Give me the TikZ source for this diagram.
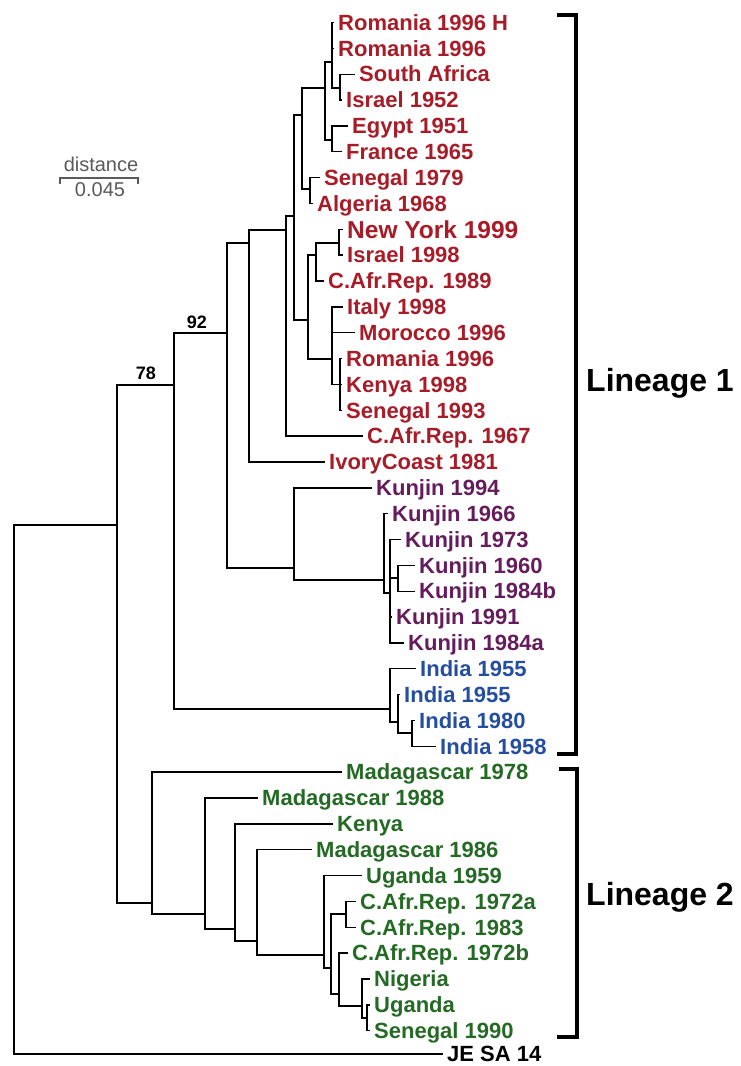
\documentclass[tikz,border=0pt]{standalone}
\usepackage{fontspec}
\setmainfont{Liberation Sans}
\definecolor{lred}{RGB}{168,28,40}
\definecolor{lpurple}{RGB}{100,28,92}
\definecolor{lblue}{RGB}{36,78,160}
\definecolor{lgreen}{RGB}{36,106,36}
\definecolor{scalegray}{RGB}{90,90,90}
\begin{document}
\begin{tikzpicture}[x=1pt,y=-1pt,
  branch/.style={line width=1.4pt, line join=miter},
  taxon/.style={anchor=west, inner xsep=4pt, inner ysep=0pt, text height=15.5pt, text depth=0pt,
    font=\fontsize{22}{25}\selectfont\bfseries},
  bigtaxon/.style={taxon, text height=17.5pt, font=\fontsize{24.5}{28}\selectfont\bfseries},
  red/.style={text=lred}, purp/.style={text=lpurple}, blu/.style={text=lblue}, grn/.style={text=lgreen},
  boot/.style={font=\fontsize{18}{20}\selectfont\bfseries, inner sep=0pt},
  lineage/.style={anchor=west, inner sep=0pt, font=\fontsize{32}{36}\selectfont\bfseries},
  bracket/.style={line width=3.5pt, line join=miter},
  scaletext/.style={text=scalegray, inner sep=0pt, font=\fontsize{20}{22}\selectfont}
]
\useasboundingbox (0,0) rectangle (740,1066);

% ---- leaves ----
\node[taxon,red] (l1) at (334,22.5) {Romania 1996 H};
\node[taxon,red] (l2) at (334,48.35) {Romania 1996};
\node[taxon,red] (l3) at (355,74.2) {South Africa};
\node[taxon,red] (l4) at (342,100.05) {Israel 1952};
\node[taxon,red] (l5) at (348,125.9) {Egypt 1951};
\node[taxon,red] (l6) at (342,151.75) {France 1965};
\node[taxon,red] (l7) at (320,177.6) {Senegal 1979};
\node[taxon,red] (l8) at (313,203.45) {Algeria 1968};
\node[bigtaxon,red] (l9) at (343,229.3) {New York 1999};
\node[taxon,red] (l10) at (343,255.15) {Israel 1998};
\node[taxon,red] (l11) at (324,281) {C.Afr.Rep. 1989};
\node[taxon,red] (l12) at (343,306.85) {Italy 1998};
\node[taxon,red] (l13) at (355,332.7) {Morocco 1996};
\node[taxon,red] (l14) at (342,358.55) {Romania 1996};
\node[taxon,red] (l15) at (342,384.4) {Kenya 1998};
\node[taxon,red] (l16) at (342,410.25) {Senegal 1993};
\node[taxon,red] (l17) at (363,436.1) {C.Afr.Rep. 1967};
\node[taxon,red] (l18) at (325,461.95) {IvoryCoast 1981};
\node[taxon,purp] (l19) at (372,487.8) {Kunjin 1994};
\node[taxon,purp] (l20) at (388,513.65) {Kunjin 1966};
\node[taxon,purp] (l21) at (401,539.5) {Kunjin 1973};
\node[taxon,purp] (l22) at (415,565.35) {Kunjin 1960};
\node[taxon,purp] (l23) at (415,591.2) {Kunjin 1984b};
\node[taxon,purp] (l24) at (392,617.05) {Kunjin 1991};
\node[taxon,purp] (l25) at (404,642.9) {Kunjin 1984a};
\node[taxon,blu] (l26) at (416,668.75) {India 1955};
\node[taxon,blu] (l27) at (400,694.6) {India 1955};
\node[taxon,blu] (l28) at (415,720.45) {India 1980};
\node[taxon,blu] (l29) at (436,746.3) {India 1958};
\node[taxon,grn] (l30) at (342,772.15) {Madagascar 1978};
\node[taxon,grn] (l31) at (258,798) {Madagascar 1988};
\node[taxon,grn] (l32) at (333,823.85) {Kenya};
\node[taxon,grn] (l33) at (312,849.7) {Madagascar 1986};
\node[taxon,grn] (l34) at (362,875.55) {Uganda 1959};
\node[taxon,grn] (l35) at (356,901.4) {C.Afr.Rep. 1972a};
\node[taxon,grn] (l36) at (356,927.25) {C.Afr.Rep. 1983};
\node[taxon,grn] (l37) at (348,953.1) {C.Afr.Rep. 1972b};
\node[taxon,grn] (l38) at (370,978.95) {Nigeria};
\node[taxon,grn] (l39) at (370,1004.8) {Uganda};
\node[taxon,grn] (l40) at (370,1030.65) {Senegal 1990};
\node[taxon] (l41) at (443,1054) {JE SA 14};

% ---- internal nodes ----
\coordinate (root) at (14,800);
\coordinate (n78) at (117,525);
\coordinate (n92) at (174,385);
\coordinate (n227) at (227,333);
\coordinate (n249) at (249,243);
\coordinate (n286) at (286,230);
\coordinate (n294) at (294,216);
\coordinate (n302) at (302,115);
\coordinate (n325) at (325,88);
\coordinate (n332a) at (332,62);
\coordinate (n340a) at (340,88);
\coordinate (n332b) at (332,140);
\coordinate (n310) at (310,189);
\coordinate (n308) at (308,320);
\coordinate (n316) at (316,255);
\coordinate (n339) at (339,243);
\coordinate (n332c) at (332,359);
\coordinate (n340c) at (340,384.4);
\coordinate (nkun) at (294,568);
\coordinate (n384) at (384,580);
\coordinate (n390k) at (390,593);
\coordinate (n398k) at (398,578);
\coordinate (nind) at (390,709);
\coordinate (n398i) at (398,722);
\coordinate (n412) at (412,733);
\coordinate (n152) at (152,903);
\coordinate (n205) at (205,914);
\coordinate (n235) at (235,929);
\coordinate (n257) at (257,941);
\coordinate (n324) at (324,955);
\coordinate (n331) at (331,968);
\coordinate (n346) at (346,914);
\coordinate (n339g) at (339,994);
\coordinate (n362) at (362,1006);
\coordinate (n367) at (367,1018);

% ---- branches ----
\begin{scope}[branch]
\draw (root) |- (n78); \draw (root) |- (l41.west);
\draw (n78) |- (n92); \draw (n78) |- (n152);
\draw (n92) |- (n227); \draw (n92) |- (nind);
\draw (n227) |- (n249); \draw (n227) |- (nkun);
\draw (n249) |- (n286); \draw (n249) |- (l18.west);
\draw (n286) |- (n294); \draw (n286) |- (l17.west);
\draw (n294) |- (n302); \draw (n294) |- (n308);
\draw (n302) |- (n325); \draw (n302) |- (n310);
\draw (n325) |- (n332a); \draw (n325) |- (n332b);
\draw (n332a) |- (l1.west); \draw (n332a) |- (l2.west); \draw (n332a) |- (n340a);
\draw (n340a) |- (l3.west); \draw (n340a) |- (l4.west);
\draw (n332b) |- (l5.west); \draw (n332b) |- (l6.west);
\draw (n310) |- (l7.west); \draw (n310) |- (l8.west);
\draw (n308) |- (n316); \draw (n308) |- (n332c);
\draw (n316) |- (n339); \draw (n316) |- (l11.west);
\draw (n339) |- (l9.west); \draw (n339) |- (l10.west);
\draw (n332c) |- (l12.west); \draw (n332c) |- (l13.west); \draw (n332c) |- (n340c);
\draw (n340c) |- (l14.west); \draw (n340c) |- (l15.west); \draw (n340c) |- (l16.west);
\draw (nkun) |- (l19.west); \draw (nkun) |- (n384);
\draw (n384) |- (l20.west); \draw (n384) |- (n390k);
\draw (n390k) |- (l21.west); \draw (n390k) |- (n398k); \draw (n390k) |- (l24.west); \draw (n390k) |- (l25.west);
\draw (n398k) |- (l22.west); \draw (n398k) |- (l23.west);
\draw (nind) |- (l26.west); \draw (nind) |- (n398i);
\draw (n398i) |- (l27.west); \draw (n398i) |- (n412);
\draw (n412) |- (l28.west); \draw (n412) |- (l29.west);
\draw (n152) |- (l30.west); \draw (n152) |- (n205);
\draw (n205) |- (l31.west); \draw (n205) |- (n235);
\draw (n235) |- (l32.west); \draw (n235) |- (n257);
\draw (n257) |- (l33.west); \draw (n257) |- (n324);
\draw (n324) |- (l34.west); \draw (n324) |- (n331);
\draw (n331) |- (n346); \draw (n331) |- (n339g);
\draw (n346) |- (l35.west); \draw (n346) |- (l36.west);
\draw (n339g) |- (l37.west); \draw (n339g) |- (n362);
\draw (n362) |- (l38.west); \draw (n362) |- (n367);
\draw (n367) |- (l39.west); \draw (n367) |- (l40.west);
\end{scope}

% ---- bootstrap values ----
\node[boot] (b92) at (197,322) {92};
\node[boot] (b78) at (146,373) {78};

% ---- lineage brackets ----
\coordinate (a1) at (557,15); \coordinate (a2) at (576,15);
\coordinate (a3) at (576,754); \coordinate (a4) at (557,754);
\draw[bracket] (a1) -- (a2) -- (a3) -- (a4);
\coordinate (c1) at (559,769); \coordinate (c2) at (577,769);
\coordinate (c3) at (577,1037); \coordinate (c4) at (557,1037);
\draw[bracket] (c1) -- (c2) -- (c3) -- (c4);
\node[lineage] (lin1) at (586,383) {Lineage 1};
\node[lineage] (lin2) at (586,897) {Lineage 2};

% ---- distance scale ----
\node[scaletext] (dist) at (101,164) {distance};
\coordinate (s1) at (60,184); \coordinate (s2) at (60,178);
\coordinate (s3) at (138,178); \coordinate (s4) at (138,184);
\draw[scalegray, line width=1.8pt] (s1) -- (s2) -- (s3) -- (s4);
\node[scaletext] (sval) at (100,190) {0.045};
\end{tikzpicture}
\end{document}
